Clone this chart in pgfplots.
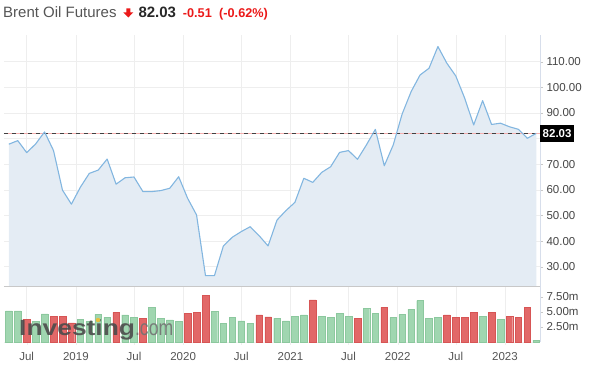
\documentclass[border=0pt]{standalone}
\usepackage{pgfplots}
\pgfplotsset{compat=1.18}
\usepackage{fontspec}
\setmainfont{Liberation Sans}
\usepackage{graphicx}
\definecolor{titlegray}{RGB}{85,85,85}
\definecolor{pricedark}{RGB}{40,40,40}
\definecolor{redc}{RGB}{235,25,25}
\definecolor{areafill}{RGB}{228,236,244}
\definecolor{linec}{RGB}{130,182,224}
\definecolor{gridc}{RGB}{238,238,238}
\definecolor{axisgray}{RGB}{200,200,200}
\definecolor{raxis}{RGB}{215,222,235}
\definecolor{labc}{RGB}{70,70,70}
\definecolor{pinkc}{RGB}{245,175,175}
\definecolor{greenbar}{RGB}{160,214,176}
\definecolor{greenedge}{RGB}{140,200,158}
\definecolor{redbar}{RGB}{226,104,104}
\definecolor{rededge}{RGB}{215,85,85}
\definecolor{dotc}{RGB}{230,190,60}

\begin{document}
\begin{tikzpicture}
\path[use as bounding box] (0,0) rectangle (602pt,386pt);

% ---------- price panel ----------
\begin{axis}[
  at={(4pt,100pt)}, anchor=south west, scale only axis,
  width=536pt, height=251pt,
  xmin=-0.54, xmax=59.42, ymin=22.47, ymax=120.4,
  axis x line*=bottom, axis y line*=right,
  x axis line style={draw=axisgray, -},
  y axis line style={draw=raxis, -},
  xtick={2,7.5,14,19.5,26,31.5,38,43.5,50,55.5},
  xticklabels={},
  ytick={30,40,50,60,70,80,90,100,110},
  yticklabels={30.00,40.00,50.00,60.00,70.00,,90.00,100.00,110.00},
  grid=major, major grid style={draw=gridc, line width=0.5pt},
  tick align=outside, major tick length=3pt,
  x tick style={draw=none},
  y tick style={draw=axisgray},
  yticklabel style={font=\fontsize{11.5}{13}\selectfont, text=labc},
]
\addplot[fill=areafill, draw=none] coordinates {
(0,77.8) (1,79.2) (2,74.5) (3,77.9) (4,82.6) (5,75.3) (6,59.9) (7,54.4)
(8,61.0) (9,66.4) (10,67.7) (11,72.0) (12,62.2) (13,64.7) (14,65.0) (15,59.3)
(16,59.3) (17,59.7) (18,60.6) (19,65.1) (20,56.7) (21,50.2) (22,26.5) (23,26.5)
(24,38.1) (25,41.5) (26,43.7) (27,45.6) (28,42.1) (29,38.1) (30,48.2) (31,51.9)
(32,55.1) (33,64.5) (34,62.9) (35,66.8) (36,69.0) (37,74.6) (38,75.3) (39,71.9)
(40,77.5) (41,83.6) (42,69.4) (43,77.5) (44,89.6) (45,98.3) (46,104.8) (47,107.4)
(48,115.9) (49,109.4) (50,104.4) (51,95.7) (52,85.3) (53,94.8) (54,85.5) (55,86.0)
(56,84.6) (57,83.6) (58,80.1) (59,82.03)
} \closedcycle;
\addplot[draw=pinkc, line width=1.4pt] coordinates {(-0.54,82.03) (59.42,82.03)};
\addplot[draw=black!75, line width=0.9pt, dash pattern=on 4pt off 4pt] coordinates {(-0.54,82.03) (59.42,82.03)};
\addplot[draw=linec, line width=1.1pt, line join=round] coordinates {
(0,77.8) (1,79.2) (2,74.5) (3,77.9) (4,82.6) (5,75.3) (6,59.9) (7,54.4)
(8,61.0) (9,66.4) (10,67.7) (11,72.0) (12,62.2) (13,64.7) (14,65.0) (15,59.3)
(16,59.3) (17,59.7) (18,60.6) (19,65.1) (20,56.7) (21,50.2) (22,26.5) (23,26.5)
(24,38.1) (25,41.5) (26,43.7) (27,45.6) (28,42.1) (29,38.1) (30,48.2) (31,51.9)
(32,55.1) (33,64.5) (34,62.9) (35,66.8) (36,69.0) (37,74.6) (38,75.3) (39,71.9)
(40,77.5) (41,83.6) (42,69.4) (43,77.5) (44,89.6) (45,98.3) (46,104.8) (47,107.4)
(48,115.9) (49,109.4) (50,104.4) (51,95.7) (52,85.3) (53,94.8) (54,85.5) (55,86.0)
(56,84.6) (57,83.6) (58,80.1) (59,82.03)
};
\coordinate (lastp) at (axis cs:59.42,82.03);
\end{axis}
\node[fill=black, text=white, anchor=west, inner xsep=2.5pt, minimum height=16.5pt,
      font=\bfseries\fontsize{11.5}{13}\selectfont] at (lastp) {82.03};

% ---------- volume panel ----------
\begin{axis}[
  at={(4pt,44pt)}, anchor=south west, scale only axis,
  width=536pt, height=56pt,
  xmin=-0.54, xmax=59.42, ymin=0, ymax=9.33,
  axis x line*=bottom, axis y line*=right,
  x axis line style={draw=gridc, -},
  y axis line style={draw=raxis, -},
  xtick={2,7.5,14,19.5,26,31.5,38,43.5,50,55.5},
  xticklabels={Jul,2019,Jul,2020,Jul,2021,Jul,2022,Jul,2023},
  ytick={2.5,5,7.5},
  yticklabels={2.50m,5.00m,7.50m},
  xmajorgrids, major grid style={draw=gridc, line width=0.5pt},
  tick align=outside, major tick length=3pt,
  x tick style={draw=gridc},
  y tick style={draw=axisgray},
  yticklabel style={font=\fontsize{11.5}{13}\selectfont, text=labc},
  xticklabel style={font=\fontsize{11.5}{13}\selectfont, text=titlegray, yshift=-4pt},
]
\addplot[ybar, bar width=6.6pt, bar shift=0pt, fill=greenbar, draw=greenedge, line width=0.4pt] coordinates {
(0,5.2) (1,5.2) (3,3.4) (4,4.67) (8,3.78) (9,3.4) (10,4.6) (11,4.1) (13,4.5) (14,4.1)
(16,5.78) (17,3.94) (18,3.67) (19,3.4) (23,5.06) (24,3.1) (25,4.1) (26,3.5) (27,3.1) (30,3.94)
(31,3.5) (32,4.33) (33,4.5) (35,4.33) (36,4.1) (37,4.78) (38,4.33) (40,5.6) (41,4.78) (43,4.1)
(44,4.6) (45,5.44) (46,6.9) (47,3.94) (48,4.1) (53,4.33) (55,3.78) (59,0.33)
};
\addplot[ybar, bar width=6.6pt, bar shift=0pt, fill=redbar, draw=rededge, line width=0.4pt] coordinates {
(2,3.83) (5,4.33) (6,4.33) (7,3.2) (12,4.94) (15,3.94) (20,4.78) (21,4.94) (22,7.72) (28,4.5)
(29,4.2) (34,7.0) (39,3.94) (42,5.78) (49,4.5) (50,4.1) (51,4.1) (52,4.94) (54,4.94) (56,4.33)
(57,4.1) (58,5.78)
};
\end{axis}
\draw[axisgray, line width=0.8pt] (4pt,100pt) -- (540pt,100pt);

% ---------- watermark ----------
\node[anchor=base west, inner sep=0, opacity=0.9] at (19pt,51pt)
 {\textcolor{black!70}{\scalebox{1.2}[1]{\fontsize{22}{24}\bfseries Investing}}\textcolor{black!55}{\scalebox{0.8}[1]{\fontsize{22}{24}\selectfont .com}}};
\fill[dotc] (98pt,66pt) circle (2.2pt);

% ---------- title ----------
\node[anchor=base west, inner sep=0, text=titlegray, font=\fontsize{15}{18}\selectfont] at (3pt,368pt) {Brent Oil Futures};
\fill[redc] (126.3pt,377.7pt) -- (130.3pt,377.7pt) -- (130.3pt,373.7pt) -- (133.3pt,373.7pt)
   -- (128.3pt,368.5pt) -- (123.3pt,373.7pt) -- (126.3pt,373.7pt) -- cycle;
\node[anchor=base west, inner sep=0, text=pricedark, font=\bfseries\fontsize{15}{18}\selectfont] at (138.3pt,368pt) {82.03};
\node[anchor=base west, inner sep=0, text=redc, font=\bfseries\fontsize{12.7}{15}\selectfont] at (182.7pt,368pt) {-0.51};
\node[anchor=base west, inner sep=0, text=redc, font=\bfseries\fontsize{12.7}{15}\selectfont] at (219pt,368pt) {(-0.62\%)};
\end{tikzpicture}
\end{document}
